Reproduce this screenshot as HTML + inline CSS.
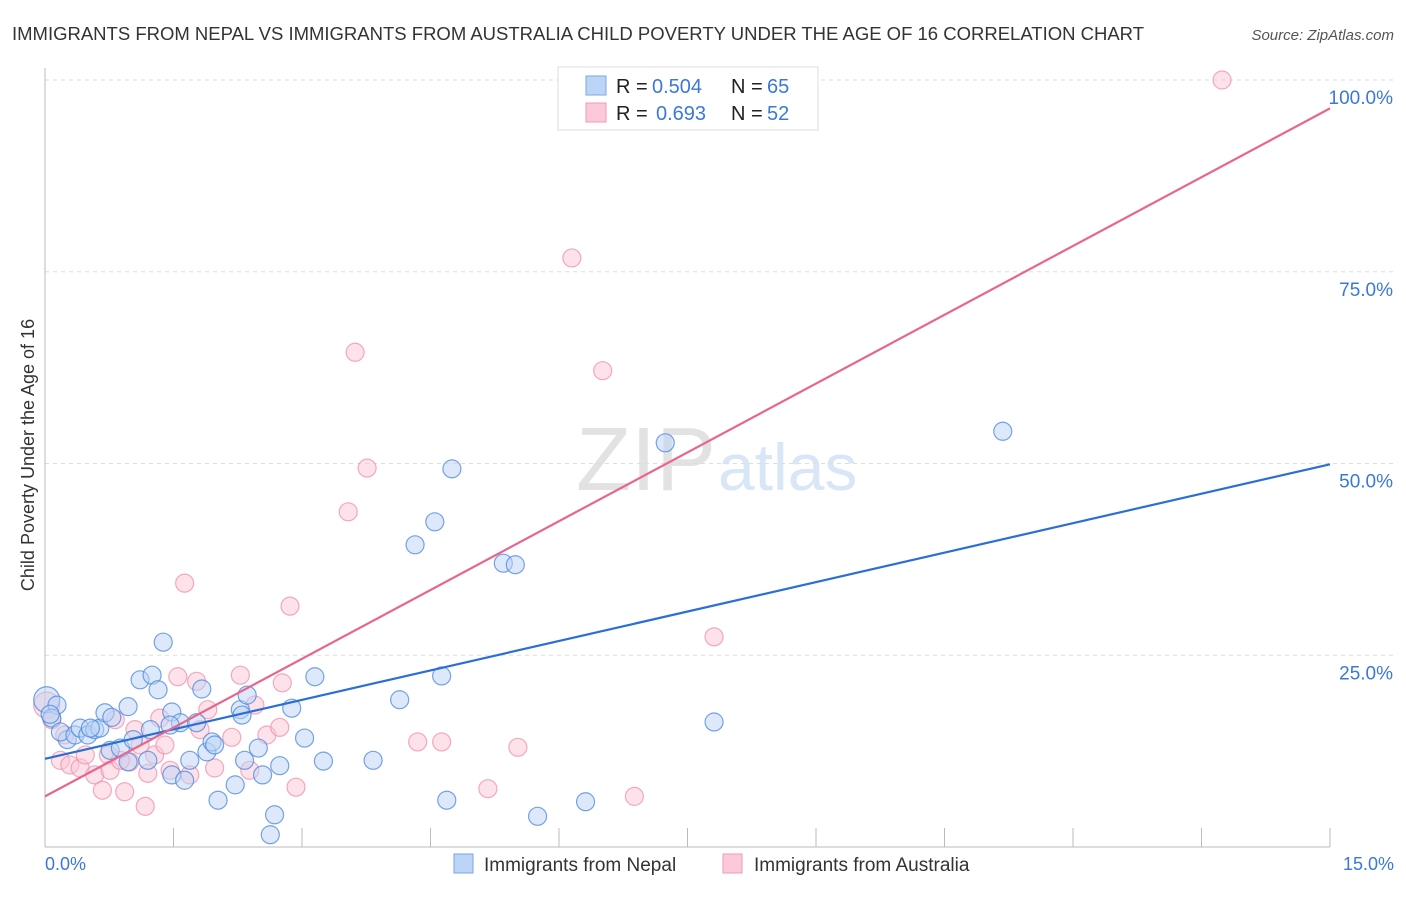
<!DOCTYPE html>
<html><head><meta charset="utf-8"><style>
body{margin:0;background:#fff;font-family:"Liberation Sans",sans-serif}
svg text{font-family:"Liberation Sans",sans-serif}
</style></head><body>
<svg width="1406" height="892" xmlns="http://www.w3.org/2000/svg">
<text x="12" y="40" font-size="18.5" fill="#333" textLength="1132">IMMIGRANTS FROM NEPAL VS IMMIGRANTS FROM AUSTRALIA CHILD POVERTY UNDER THE AGE OF 16 CORRELATION CHART</text>
<text x="1394" y="40" font-size="15" fill="#555" font-style="italic" text-anchor="end">Source: ZipAtlas.com</text>
<text x="716" y="490" font-size="90" fill="#e2e2e2" font-family="Liberation Serif" text-anchor="end">ZIP</text>
<text x="718" y="490" font-size="66" fill="#d8e6f7">atlas</text>
<g id="grid"></g>
<g id="axes"></g>
<g id="pts"></g>
<g id="lines"></g>
<text transform="translate(34,455) rotate(-90)" font-size="18" fill="#333" text-anchor="middle">Child Poverty Under the Age of 16</text>
<text x="45" y="870" font-size="18" fill="#3b78d8">0.0%</text>
<text x="1394" y="870" font-size="18" fill="#3b78d8" text-anchor="end">15.0%</text>
<g>
<rect x="558" y="67" width="260" height="63" fill="#fff" stroke="#ddd"/>
<rect x="586" y="76" width="20" height="19" fill="#bcd4f5" stroke="#7aa6e6"/>
<rect x="586" y="103" width="20" height="19" fill="#fcc9d8" stroke="#ef9ab4"/>
<text x="616" y="93" font-size="20" fill="#222">R =</text>
<text x="652" y="93" font-size="20" fill="#3b78d8">0.504</text>
<text x="731" y="93" font-size="20" fill="#222">N =</text>
<text x="767" y="93" font-size="20" fill="#3b78d8">65</text>
<text x="616" y="120" font-size="20" fill="#222">R =</text>
<text x="656" y="120" font-size="20" fill="#3b78d8">0.693</text>
<text x="731" y="120" font-size="20" fill="#222">N =</text>
<text x="767" y="120" font-size="20" fill="#3b78d8">52</text>
</g>
<g>
<rect x="454" y="854" width="19" height="19" fill="#bcd4f5" stroke="#7aa6e6"/>
<text x="484" y="871" font-size="19" fill="#333">Immigrants from Nepal</text>
<rect x="723" y="854" width="19" height="19" fill="#fcc9d8" stroke="#ef9ab4"/>
<text x="754" y="871" font-size="19" fill="#333">Immigrants from Australia</text>
</g>
</svg>
<script>
const yTicks=[25,50,75,100];
const yTickLabels=["25.0%","50.0%","75.0%","100.0%"];
const xTicks=[0,1.5,3,4.5,6,7.5,9,10.5,12,13.5,15];
const nepalX=[0.02,0.14,0.08,0.26,0.18,0.35,0.41,0.50,0.58,0.64,0.70,0.78,0.97,0.76,0.88,0.97,1.03,1.11,1.25,1.32,1.38,1.20,1.23,1.48,1.58,1.48,1.63,1.69,1.77,1.83,1.89,1.95,1.98,2.02,2.22,2.28,2.30,2.36,2.33,2.49,2.54,2.63,2.68,2.74,2.88,3.03,3.15,3.25,3.83,4.14,4.32,4.55,4.63,4.69,4.75,5.35,5.49,5.75,6.31,7.24,7.81,11.18,0.06,0.53,1.46];
const nepalY=[19.2,18.5,16.8,14.0,15.0,14.6,15.5,14.6,15.3,15.5,17.5,16.9,18.3,12.6,12.9,11.1,14.0,21.8,22.4,20.5,26.7,11.3,15.3,17.6,16.2,9.4,8.7,11.3,16.2,20.6,12.4,13.7,13.3,6.1,8.1,17.9,17.2,19.8,11.3,12.9,9.4,1.6,4.2,10.6,18.1,14.2,22.2,11.2,11.3,19.2,39.4,42.4,22.3,6.1,49.3,37.0,36.8,4.0,5.9,52.7,16.3,54.2,17.3,15.5,15.9];
const ausX=[0.02,0.08,0.18,0.29,0.41,0.47,0.58,0.67,0.74,0.82,0.93,0.99,1.05,1.11,1.17,1.20,1.28,1.34,1.40,1.55,1.63,1.69,1.77,1.81,1.90,1.98,2.18,2.28,2.39,2.45,2.59,2.74,2.77,2.86,2.93,3.54,3.62,3.76,4.35,4.63,5.17,5.52,6.15,6.51,6.88,7.81,13.74,6.77,0.23,0.76,1.46,0.88];
const ausY=[18.5,16.6,11.3,10.7,10.3,12.0,9.4,7.4,12.0,16.6,7.2,11.1,15.3,13.3,5.3,9.6,12.0,16.8,13.3,22.2,34.4,9.4,21.6,15.3,17.9,10.3,14.3,22.4,10.0,18.5,14.6,15.6,21.4,31.4,7.8,43.7,64.5,49.4,13.7,13.7,7.6,13.0,76.8,62.1,6.6,27.4,100,100,14.6,10.0,10.0,11.3];
const nepalFit=[11.5,49.9];
const ausFit=[6.6,96.3];
const X=v=>45+v*1285/15, Y=v=>847-v*7.67;
const NS='http://www.w3.org/2000/svg';
function mk(t,a,p){const e=document.createElementNS(NS,t);for(const k in a)e.setAttribute(k,a[k]);p.appendChild(e);return e;}
const grid=document.getElementById('grid'),axes=document.getElementById('axes'),pts=document.getElementById('pts'),lines=document.getElementById('lines');
yTicks.forEach((t,i)=>{
 const l=mk('line',{x1:45,x2:1394,y1:Y(t),y2:Y(t),stroke:'#ddd','stroke-dasharray':'4,4'},grid);
 
 
 const tx=mk('text',{x:1393,y:Y(t)+24,'font-size':19,fill:'#3b78d8','text-anchor':'end'},grid);
 tx.textContent=yTickLabels[i];
 
 
});
const xa=mk('line',{x1:45,x2:1330,y1:847,y2:847,stroke:'#bbb'},axes);


const ya=mk('line',{x1:45,x2:45,y1:68,y2:847,stroke:'#bbb'},axes);


xTicks.forEach(t=>{
 const l=mk('line',{x1:X(t),x2:X(t),y1:828,y2:847,stroke:'#bbb'},axes);
 
 
});
function dots(xs,ys,fill,stroke,name){
 xs.forEach((x,i)=>{
  const c=mk('circle',{cx:X(x),cy:Y(ys[i]),r:i===0?13:9,fill:fill,'fill-opacity':0.5,stroke:stroke,'stroke-width':1.2,'stroke-opacity':0.75},pts);
  
  
 });
}
dots(ausX,ausY,'#fbc6d5','#ef8fae','australia-point');
dots(nepalX,nepalY,'#bcd4f5','#4a86dd','nepal-point');
const bl=mk('line',{x1:X(0),y1:Y(nepalFit[0]),x2:X(15),y2:Y(nepalFit[1]),stroke:'#2b6fd6','stroke-width':2.2},lines);


const pl=mk('line',{x1:X(0),y1:Y(ausFit[0]),x2:X(15),y2:Y(ausFit[1]),stroke:'#e8668e','stroke-width':2.2},lines);


</script>
</body></html>
